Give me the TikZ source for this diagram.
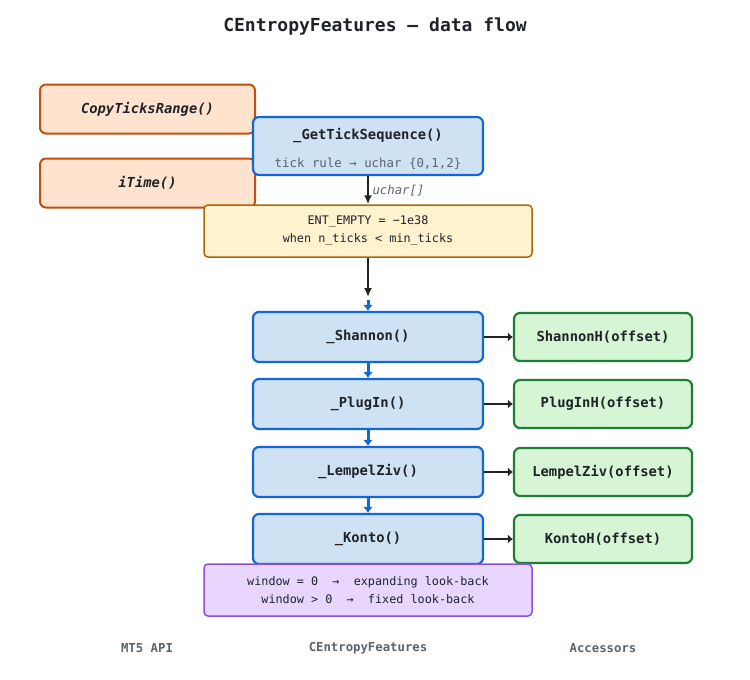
\documentclass[tikz,border=0pt]{standalone}
\usepackage{fontspec}
\setmainfont{DejaVu Sans Mono}
\usepackage{xcolor}
\usetikzlibrary{arrows.meta,positioning}
\definecolor{flowblue}{HTML}{1366DA}
\definecolor{flowbluefill}{HTML}{CFE2F3}
\definecolor{apiorange}{HTML}{C2500A}
\definecolor{apiorangefill}{HTML}{FFE3CF}
\definecolor{noteyellow}{HTML}{A6690A}
\definecolor{noteyellowfill}{HTML}{FFF2CE}
\definecolor{accgreen}{HTML}{1E7E34}
\definecolor{accgreenfill}{HTML}{D5F5D5}
\definecolor{notepurple}{HTML}{8B50E0}
\definecolor{notepurplefill}{HTML}{E8D6FF}
\definecolor{inkdark}{HTML}{1F2328}
\definecolor{inkgray}{HTML}{5A6270}

\begin{document}
\begin{tikzpicture}[
  x=1pt,y=-1pt,
  apibox/.style={draw=apiorange,fill=apiorangefill,line width=2pt,rounded corners=6pt,minimum width=215pt,minimum height=49pt,inner sep=0pt,text=inkdark,font=\fontsize{13.8}{16}\selectfont\bfseries\itshape},
  calcbox/.style={draw=flowblue,fill=flowbluefill,line width=2.2pt,rounded corners=6pt,minimum width=230pt,minimum height=50pt,inner sep=0pt,text=inkdark,font=\fontsize{13.8}{16}\selectfont\bfseries},
  accbox/.style={draw=accgreen,fill=accgreenfill,line width=2.2pt,rounded corners=6pt,minimum width=178pt,minimum height=48pt,inner sep=0pt,text=inkdark,font=\fontsize{13.8}{16}\selectfont\bfseries},
  notebox/.style={line width=1.5pt,rounded corners=4pt,minimum width=328pt,minimum height=52pt,inner sep=0pt,align=center,text=inkdark,font=\fontsize{11.8}{18}\selectfont},
  arrow/.style={-{Latex[length=9pt,width=8pt]},line width=2.4pt,draw=inkdark},
  flow/.style={-{Latex[length=6pt,width=10pt]},line width=3pt,draw=flowblue},
  feed/.style={-{Latex[length=5pt,width=9pt]},line width=2.4pt,draw=inkdark},
  lane/.style={text=inkgray,font=\fontsize{12.3}{14}\selectfont\bfseries}
]
\useasboundingbox (0,0) rectangle (750,680);
\node[font=\fontsize{18}{20}\selectfont\bfseries,text=inkdark] (title) at (375,27) {CEntropyFeatures — data flow};
% MT5 API
\node[apibox] (copyticks) at (147.5,109) {CopyTicksRange()};
\node[apibox] (itime) at (147.5,183) {iTime()};
% tick sequence and guard
\node[calcbox,minimum height=58pt] (getseq) at (368,146) {};
\node[font=\fontsize{13.8}{16}\selectfont\bfseries,text=inkdark] (getseqname) at (368,136) {\_GetTickSequence()};
\node[font=\fontsize{12.4}{14}\selectfont,text=inkgray] (getseqnote) at (368,164) {tick rule → uchar \{0,1,2\}};
\node[notebox,draw=noteyellow,fill=noteyellowfill] (empty) at (368,231) {ENT\_EMPTY = −1e38\\when n\_ticks < min\_ticks};
\coordinate (gap) at (368,297);
\coordinate (gapb) at (368,300);
% estimators
\node[calcbox] (shannon) at (368,337) {\_Shannon()};
\node[calcbox] (plugin) at (368,404) {\_PlugIn()};
\node[calcbox] (lempel) at (368,472) {\_LempelZiv()};
\node[calcbox] (konto) at (368,539) {\_Konto()};
% accessors
\node[accbox] (shannonh) at (603,337) {ShannonH(offset)};
\node[accbox] (pluginh) at (603,404) {PlugInH(offset)};
\node[accbox] (lempelh) at (603,472) {LempelZiv(offset)};
\node[accbox] (kontoh) at (603,539) {KontoH(offset)};
\node[notebox,draw=notepurple,fill=notepurplefill] (window) at (368,590) {window = 0~~→~~expanding look-back\\window > 0~~→~~fixed look-back};
% lanes
\node[lane] (lanemt5) at (147,648) {MT5 API};
\node[lane] (laneclass) at (368,648) {CEntropyFeatures};
\node[lane] (laneacc) at (603,648) {Accessors};

\draw[arrow] (getseq.south) -- node[right,font=\fontsize{12.3}{14}\selectfont\itshape,text=inkgray]{uchar[]} (empty.north);
\draw[arrow] (empty.south) -- (gap);
\draw[flow] (gapb) -- (shannon.north);
\draw[flow] (shannon.south) -- (plugin.north);
\draw[flow] (plugin.south) -- (lempel.north);
\draw[flow] (lempel.south) -- (konto.north);
\draw[feed] (shannon.east) -- (shannonh.west);
\draw[feed] (plugin.east) -- (pluginh.west);
\draw[feed] (lempel.east) -- (lempelh.west);
\draw[feed] (konto.east) -- (kontoh.west);
\end{tikzpicture}
\end{document}
